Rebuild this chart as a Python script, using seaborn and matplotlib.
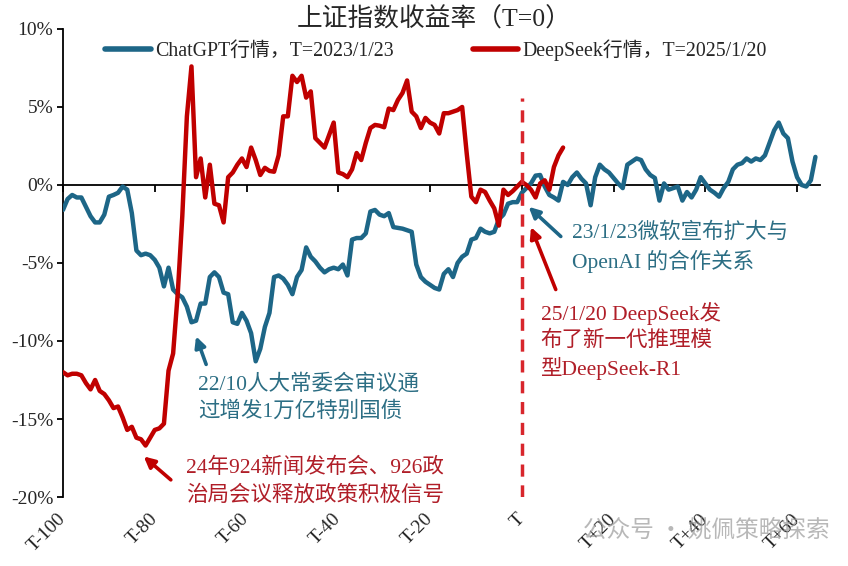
import numpy as np
import pandas as pd
import matplotlib
matplotlib.use("Agg")
import matplotlib.pyplot as plt
import seaborn as sns

# Shanghai Composite cumulative return (%), day offset from T
chatgpt_ret = [
    -1.6, -0.9, -0.64, -0.8, -0.8, -1.4, -2.0, -2.4, -2.4, -1.9,      # T-100..T-91
    -0.75, -0.64, -0.5, -0.1, -0.3, -1.8, -4.2, -4.5, -4.4, -4.5,     # T-90..T-81
    -4.8, -5.3, -6.5, -5.3, -6.7, -7.0, -7.2, -7.8, -8.8, -8.7,       # T-80..T-71
    -7.6, -7.6, -5.9, -5.6, -5.9, -6.9, -7.0, -8.8, -8.9, -8.2,       # T-70..T-61
    -8.7, -9.5, -11.3, -10.5, -9.1, -8.2, -5.9, -5.8, -6.0, -6.4,     # T-60..T-51
    -7.0, -5.9, -5.45, -4.0, -4.6, -4.9, -5.3, -5.6, -5.4, -5.3,      # T-50..T-41
    -5.4, -5.1, -5.8, -3.5, -3.4, -3.4, -3.1, -1.7, -1.6, -1.9,       # T-40..T-31
    -2.0, -1.8, -2.7, -2.75, -2.8, -2.9, -3.0, -5.1, -5.9, -6.2,      # T-30..T-21
    -6.4, -6.6, -6.7, -5.7, -5.4, -5.9, -5.0, -4.6, -4.4, -3.5,       # T-20..T-11
    -3.4, -2.8, -3.0, -3.1, -3.0, -2.2, -1.9, -1.2, -1.1, -1.1,       # T-10..T-1
    -0.5, -0.2, 0.1, 0.6, 0.64, -0.1, -0.64, -0.8, -1.0, 0.2,         # T..T+9
    0.0, 0.5, 0.8, 0.4, 0.1, -1.3, 0.5, 1.3, 1.0, 0.8,                # T+10..T+19
    0.45, 0.1, -0.2, 1.3, 1.5, 1.7, 1.6, 1.0, 0.64, 0.45,             # T+20..T+29
    -1.0, 0.1, -0.3, -0.2, -0.1, -1.0, -0.45, -0.8, -0.3, 0.5,        # T+30..T+39
    0.1, -0.3, -0.5, -0.75, -0.2, 0.2, 1.0, 1.3, 1.4, 1.7,            # T+40..T+49
    1.5, 1.7, 1.6, 1.9, 2.7, 3.5, 4.0, 3.3, 3.0, 1.5,                 # T+50..T+59
    0.5, 0.0, -0.1, 0.3, 1.8,                                         # T+60..T+64
]
deepseek_ret = [
    -12.0, -12.2, -12.1, -12.1, -12.2, -12.7, -13.1, -12.5, -13.2, -13.4,   # T-100..T-91
    -13.8, -14.3, -14.2, -14.9, -15.7, -15.5, -16.2, -16.3, -16.7, -16.2,   # T-90..T-81
    -15.7, -15.6, -15.3, -11.9, -10.8, -7.0, -2.0, 4.4, 7.6, 0.5,           # T-80..T-71
    1.7, -0.8, 1.3, -1.2, -1.3, -2.4, 0.5, 0.8, 1.3, 1.7,                   # T-70..T-61
    1.15, 2.4, 1.6, 0.64, 1.1, 0.9, 0.85, 1.9, 4.4, 4.4,                    # T-60..T-51
    7.0, 6.6, 7.0, 5.6, 6.0, 3.0, 2.7, 2.4, 3.2, 4.0,                       # T-50..T-41
    0.8, 0.7, 0.5, 1.0, 2.05, 1.6, 2.7, 3.65, 3.85, 3.8,                    # T-40..T-31
    3.7, 4.9, 4.8, 5.45, 5.9, 6.7, 4.7, 4.4, 3.65, 4.3,                     # T-30..T-21
    4.0, 3.85, 3.3, 4.6, 4.6, 4.7, 4.8, 5.0, 2.0, -0.75,                    # T-20..T-11
    -1.1, -0.3, -0.45, -1.0, -1.5, -2.6, -0.3, -0.64, -0.4, -0.1,           # T-10..T-1
    0.2, 0.0, -0.3, -0.8, 0.1, 0.3, -0.3, 1.15, 1.9, 2.4,                   # T..T+9
]
start_day = -100

x_ticks = [-100, -80, -60, -40, -20, 0, 20, 40, 60]
x_ticklabels = ["T-100", "T-80", "T-60", "T-40", "T-20", "T", "T+20", "T+40", "T+60"]
y_ticks = [-20, -15, -10, -5, 0, 5, 10]

blue = "#1D6687"
red = "#C00000"
blue_txt = "#2C6E84"
red_txt = "#B01E28"

df_gpt = pd.DataFrame({"T": np.arange(start_day, start_day + len(chatgpt_ret)), "ret": chatgpt_ret})
df_ds = pd.DataFrame({"T": np.arange(start_day, start_day + len(deepseek_ret)), "ret": deepseek_ret})

sns.set_theme(style="white")
mixed = ["Liberation Serif", "Noto Sans CJK SC"]
plt.rcParams["font.family"] = mixed

fig = plt.figure(figsize=(8.48, 5.66), dpi=100)
ax = fig.add_axes([0.0743, 0.1219, 0.8927, 0.8269])

sns.lineplot(data=df_gpt, x="T", y="ret", color=blue, lw=3.2, ax=ax,
             label="ChatGPT行情，T=2023/1/23", zorder=3)
sns.lineplot(data=df_ds, x="T", y="ret", color=red, lw=3.2, ax=ax,
             label="DeepSeek行情，T=2025/1/20", zorder=4)

ax.vlines(0, -20, 5.6, colors="#D8262C", linestyles=(0, (3.5, 2.5)), lw=2.5, zorder=5)

ax.set_xlim(-100, 65)
ax.set_ylim(-20, 10)
ax.set_xlabel("")
ax.set_ylabel("")

# x axis line sits on 0%, labels stay at the bottom
ax.spines["bottom"].set_position(("data", 0))
ax.spines["top"].set_visible(False)
ax.spines["right"].set_visible(False)
for s in ["left", "bottom"]:
    ax.spines[s].set_color("black")
    ax.spines[s].set_linewidth(1.3)
ax.set_xticks(x_ticks)
ax.tick_params(axis="x", direction="out", length=5, width=1.3, color="black",
               labelbottom=False, bottom=True)
ax.set_yticks(y_ticks)
ax.set_yticklabels([f"{v}%" for v in y_ticks])
ax.tick_params(axis="y", direction="out", length=4, width=1.3, color="black",
               labelsize=14, left=True, pad=3)

sec = ax.secondary_xaxis(0)
sec.spines["bottom"].set_visible(False)
sec.set_xticks(x_ticks)
sec.set_xticklabels(x_ticklabels)
sec.tick_params(axis="x", length=0, labelsize=14, pad=14)
for lab in sec.get_xticklabels():
    lab.set_rotation(45)
    lab.set_ha("right")
    lab.set_va("center")
    lab.set_rotation_mode("anchor")

leg = ax.legend(loc="center left", bbox_to_anchor=(0.045, 0.955), ncol=2, frameon=False,
                handlelength=2.3, handletextpad=0.2, columnspacing=4.0,
                borderaxespad=0, prop={"family": mixed, "size": 14.3})
for h in leg.get_lines():
    h.set_linewidth(4)

# annotations
arrow_kw = dict(arrowstyle="-|>", lw=2.6, mutation_scale=16, shrinkA=0, shrinkB=0)
ax.annotate("", xy=(-71.0, -9.7), xytext=(-68.8, -11.5),
            arrowprops=dict(color=blue, **arrow_kw))
ax.text(-70.5, -13.65, "22/10人大常委会审议通\n过增发1万亿特别国债", color=blue_txt,
        fontsize=15.5, va="center", ha="left", linespacing=1.45)

ax.annotate("", xy=(-82.4, -17.4), xytext=(-76.5, -18.9),
            arrowprops=dict(color=red, **arrow_kw))
ax.text(-73.2, -19.0, "24年924新闻发布会、926政\n治局会议释放政策积极信号", color=red_txt,
        fontsize=15.5, va="center", ha="left", linespacing=1.45)

ax.annotate("", xy=(1.5, -1.4), xytext=(8.5, -3.3),
            arrowprops=dict(color=blue, **arrow_kw))
ax.text(10.9, -4.0, "23/1/23微软宣布扩大与\nOpenAI 的合作关系", color=blue_txt,
        fontsize=15.5, va="center", ha="left", linespacing=1.4)

ax.annotate("", xy=(2.0, -2.7), xytext=(7.4, -6.7),
            arrowprops=dict(color=red, **arrow_kw))
ax.text(4.1, -10.0, "25/1/20 DeepSeek发\n布了新一代推理模\n型DeepSeek-R1", color=red_txt,
        fontsize=15.5, va="center", ha="left", linespacing=1.35)

fig.text(0.512, 0.966, "上证指数收益率（T=0）", ha="center", va="center", fontsize=18.5,
         family=mixed)
fig.text(0.688, 0.064, "公众号 · 姚佩策略探索", ha="left", va="center", fontsize=17,
         color="#9A9A9A", alpha=0.7, family=["Noto Sans CJK SC", "DejaVu Sans"])

fig.savefig("out.png", dpi=100)
